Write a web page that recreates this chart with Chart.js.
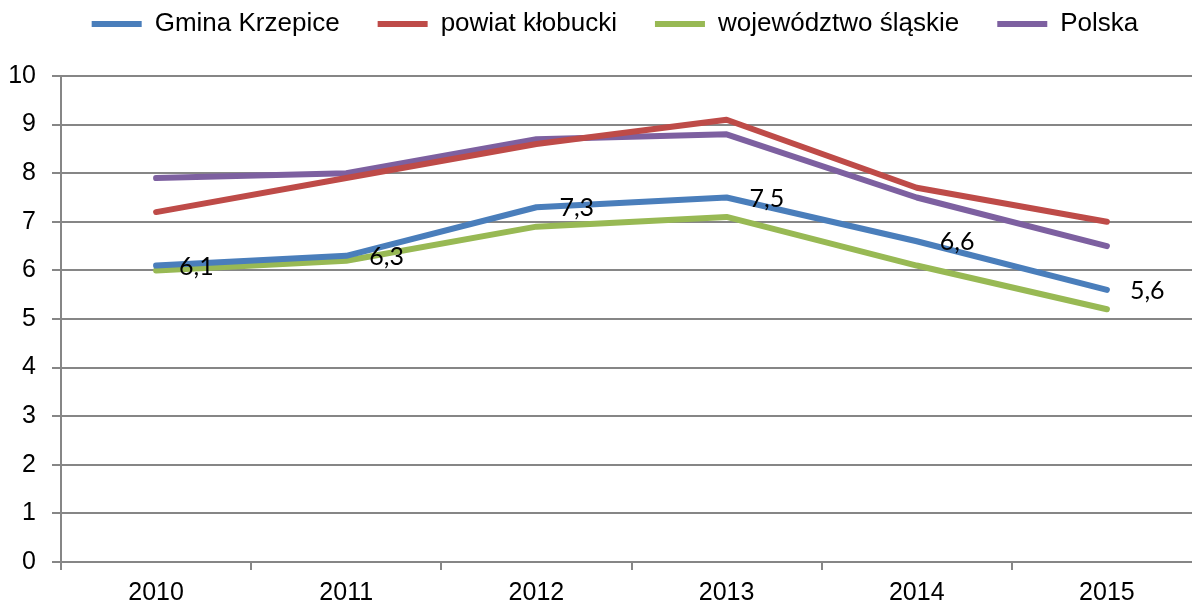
<!DOCTYPE html>
<html>
<head>
<meta charset="utf-8">
<script src="https://cdn.jsdelivr.net/npm/chart.js@4"></script>
<style>
  html, body { margin: 0; padding: 0; background: #fff; overflow: hidden; }
  #wrap { width: 1210px; height: 605px; }
</style>
</head>
<body>
<div id="wrap"><canvas id="chart"></canvas></div>
<script>
// years on the x axis
let years = ['2010', '2011', '2012', '2013', '2014', '2015'];

// series values
let gmina = [6.1, 6.3, 7.3, 7.5, 6.6, 5.6];
let powiat = [7.2, 7.9, 8.6, 9.1, 7.7, 7.0];
let wojewodztwo = [6.0, 6.2, 6.9, 7.1, 6.1, 5.2];
let polska = [7.9, 8.0, 8.7, 8.8, 7.5, 6.5];

let seriesNames = ['Gmina Krzepice', 'powiat kłobucki', 'województwo śląskie', 'Polska'];
let seriesColors = ['#4a7ebb', '#be4b48', '#98b954', '#7d60a0'];

let gridColor = '#868686';

// legend: fixed height, nudged right to sit where the original one is
let legendPlace = {
  id: 'legendPlace',
  afterInit(chart) {
    let fit = chart.legend.fit;
    chart.legend.fit = function () {
      fit.call(this);
      this.height = 103;
    };
  },
  afterLayout(chart) {
    chart.legend.left += 14;
    chart.legend.right += 14;
  },
};

// value labels to the right of the first series
let valueLabels = {
  id: 'valueLabels',
  afterDatasetsDraw(chart) {
    let ctx = chart.ctx;
    let meta = chart.getDatasetMeta(0);
    ctx.save();
    ctx.font = '25px Lato';
    ctx.fillStyle = '#000';
    ctx.textAlign = 'left';
    ctx.textBaseline = 'middle';
    meta.data.forEach((pt, i) => {
      let txt = gmina[i].toFixed(1).replace('.', ',');
      ctx.fillText(txt, pt.x + 23, pt.y + 1);
    });
    ctx.restore();
  },
};

let context = document.querySelector('#chart').getContext('2d');

let chart = new Chart(context, {
  type: 'line',
  data: {
    labels: years,
    datasets: [gmina, powiat, wojewodztwo, polska].map((values, i) => ({
      label: seriesNames[i],
      data: values,
      borderColor: seriesColors[i],
      backgroundColor: seriesColors[i],
      borderWidth: 6,
      borderCapStyle: 'round',
      borderJoinStyle: 'round',
      pointRadius: 0,
      pointHoverRadius: 0,
      tension: 0,
    })),
  },
  options: {
    responsive: true,
    maintainAspectRatio: false,
    animation: false,
    layout: { padding: { top: -27, left: 0, right: 8, bottom: 0 } },
    plugins: {
      tooltip: { enabled: false },
      legend: {
        position: 'top',
        labels: {
          usePointStyle: true,
          pointStyle: 'line',
          pointStyleWidth: 50,
          padding: 38,
          color: '#000',
          font: { family: 'Liberation Sans, Arial', size: 26 },
        },
      },
    },
    scales: {
      x: {
        offset: true,
        grid: {
          offset: true,
          drawOnChartArea: false,
          drawTicks: true,
          tickLength: 8,
          color: gridColor,
          lineWidth: 2,
        },
        border: { color: gridColor, width: 2 },
        ticks: {
          color: '#000',
          padding: 8,
          maxRotation: 0,
          font: { family: 'Liberation Sans, Arial', size: 25 },
        },
        afterFit(scale) { scale.height = 43; },
      },
      y: {
        min: 0,
        max: 10,
        grid: {
          color: gridColor,
          lineWidth: 2,
          tickLength: 9,
        },
        border: { color: gridColor, width: 2 },
        ticks: {
          stepSize: 1,
          color: '#000',
          padding: 16,
          font: { family: 'Liberation Sans, Arial', size: 25 },
        },
        afterFit(scale) { scale.width = 61; },
      },
    },
  },
  plugins: [legendPlace, valueLabels],
});
</script>
</body>
</html>
